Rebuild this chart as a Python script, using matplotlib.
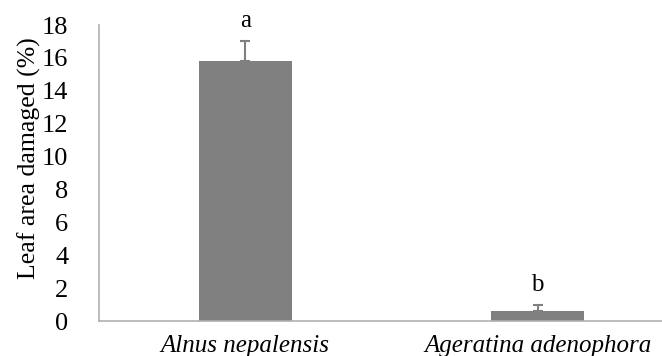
import matplotlib
matplotlib.use("Agg")
import matplotlib.pyplot as plt

categories = ["Alnus nepalensis", "Ageratina adenophora"]
values = [15.8, 0.6]
errors = [1.2, 0.35]
letters = ["a", "b"]
yticks = [0, 2, 4, 6, 8, 10, 12, 14, 16, 18]

plt.rcParams['font.family'] = ['Liberation Serif', 'DejaVu Serif']

fig = plt.figure(figsize=(6.62, 3.56), dpi=100)
W, H = 662, 356
left, right, bottom, top = 99, 662, 321, 25
ax = fig.add_axes([left / W, 1 - bottom / H, (right - left) / W, (bottom - top) / H])

x = [1, 2]
ax.bar(x, values, width=0.318, color="#808080", zorder=2)
ax.errorbar(x, values, yerr=[[0, 0], errors], fmt="none", ecolor="#808080",
            elinewidth=1.5, capsize=3.5, capthick=1.5, zorder=3)
for xi, v, e, l in zip(x, values, errors, letters):
    ax.text(xi, v + e + 0.6, l, ha="center", va="bottom", fontsize=18)

ax.set_xlim(0.5, 0.5 + (right - left) / 292.5)
ax.set_ylim(0, 18)
ax.set_yticks(yticks)
ax.set_yticklabels([str(t) for t in yticks], fontsize=19)
ax.set_xticks(x)
ax.set_xticklabels(categories, fontsize=18, style="italic")
ax.tick_params(length=0)
ax.tick_params(axis="x", pad=10)
ax.tick_params(axis="y", pad=22)
ax.set_ylabel("Leaf area damaged (%)", fontsize=18.5)
ax.yaxis.set_label_coords((41 - left) / (right - left), 0.55)
for s in ["top", "right"]:
    ax.spines[s].set_visible(False)
for s in ["left", "bottom"]:
    ax.spines[s].set_color("#b0b0b0")
    ax.spines[s].set_linewidth(1.2)

fig.savefig("out.png", dpi=100)
